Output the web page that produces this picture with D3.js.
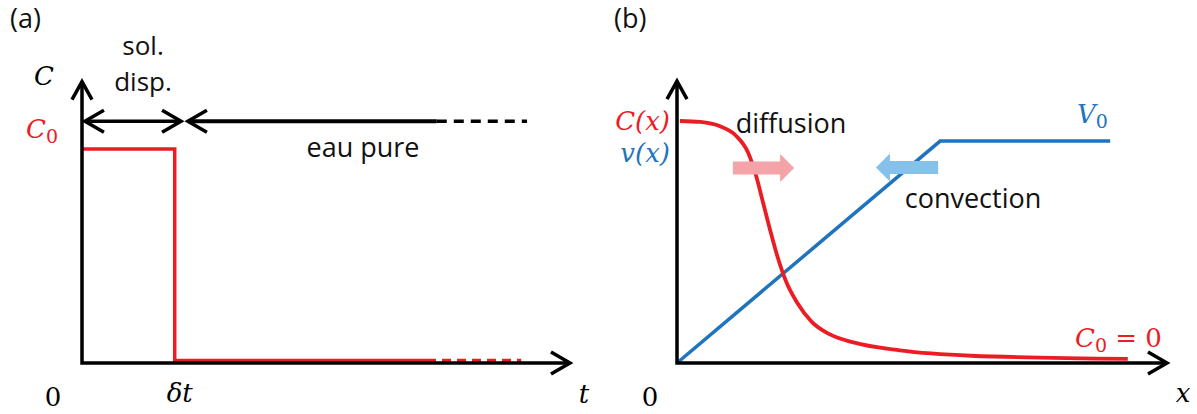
<!DOCTYPE html>
<html>
<head>
<meta charset="utf-8">
<script src="https://cdn.jsdelivr.net/npm/d3@7"></script>
<style>
  body { margin: 0; background: #fff; }
  svg { display: block; }
  .txt { font-family: "Open Sans", sans-serif; fill: #111; }
  .math { font-family: "DejaVu Serif", serif; font-style: italic; }
  .num { font-family: "DejaVu Serif", serif; }
</style>
</head>
<body>
<div id="graph"></div>
<script>
// ---- panel (a) data : C(t) for a pulse of solution then pure water
var stepT = [0, 0.19, 0.19, 0.707];
var stepC = [1, 1, 0.012, 0.012];
var tailT = [0.707, 0.90];           // dashed continuation
var deltaT = 0.19;
var solArrow = [0.006, 0.203];       // "sol. disp." double arrow
var eauArrow = [0.217, 0.727, 0.912];// start, end of solid, end of dashed

// ---- panel (b) data : C(x) and v(x)
var cx = [0.006, 0.047, 0.088, 0.12, 0.145, 0.162, 0.176, 0.19, 0.205, 0.222, 0.245, 0.275, 0.31, 0.36, 0.455, 0.6, 0.92];
var cy = [1.0, 0.996, 0.978, 0.94, 0.87, 0.77, 0.66, 0.55, 0.44, 0.34, 0.25, 0.17, 0.12, 0.085, 0.052, 0.03, 0.017];
var vx = [0, 0.537, 0.884];
var vy = [0, 0.917, 0.917];
var diffArrow = [0.114, 0.239, 0.806];   // x from, x to, level
var convArrow = [0.533, 0.406, 0.808];

var red = "#ec1c24", blue = "#1f74bd", pink = "#f4a3a8", lightBlue = "#85c1ea";

var width = 1197, height = 414;
var svg = d3.select("#graph").append("svg")
	.attr("width", width)
	.attr("height", height);

// open chevron arrow head at (x,y) pointing in direction (dx,dy)
function chevron(g, x, y, dx, dy, len, half, w){
	var px = -dy, py = dx;
	var p = d3.path();
	p.moveTo(x - dx*len + px*half, y - dy*len + py*half);
	p.lineTo(x, y);
	p.lineTo(x - dx*len - px*half, y - dy*len - py*half);
	g.append("path").attr("d", p.toString())
		.attr("fill", "none").attr("stroke", "#000")
		.attr("stroke-width", w).attr("stroke-linejoin", "miter");
}

// thick block arrow (body + triangular head)
function blockArrow(g, x0, x1, y, color){
	var dir = x1 > x0 ? 1 : -1, headLen = 14, bh = 6.5, hh = 14;
	var xb = x1 - dir*headLen;
	var pts = [[x0, y-bh],[xb, y-bh],[xb, y-hh],[x1, y],[xb, y+hh],[xb, y+bh],[x0, y+bh]];
	g.append("path").attr("d", d3.line()(pts) + "Z").attr("fill", color);
}

/* ---------------- panel (a) ---------------- */
var xa = d3.scaleLinear().domain([0, 1]).range([82, 570]);
var ya = d3.scaleLinear().domain([0, 1]).range([363, 149]);
var ga = svg.append("g");

var lineA = d3.line().x(function(d){ return xa(d[0]); }).y(function(d){ return ya(d[1]); });

ga.append("path")
	.attr("d", lineA(d3.zip(stepT, stepC)))
	.attr("fill", "none").attr("stroke", red).attr("stroke-width", 3.5);
ga.append("path")
	.attr("d", lineA(tailT.map(function(t){ return [t, 0.012]; })))
	.attr("fill", "none").attr("stroke", red).attr("stroke-width", 3.5)
	.attr("stroke-dasharray", "9,6");

// axes
ga.append("path").attr("d", lineA([[0, 1.315], [0, 0], [1, 0]]))
	.attr("fill", "none").attr("stroke", "#000").attr("stroke-width", 3.5);
chevron(ga, xa(0), ya(1.315), 0, -1, 18, 10, 3.5);
chevron(ga, xa(1), ya(0), 1, 0, 19, 11, 3.5);

// annotation arrows
var yArr = ya(1.13);
ga.append("line").attr("x1", xa(solArrow[0])).attr("x2", xa(solArrow[1]))
	.attr("y1", yArr).attr("y2", yArr).attr("stroke", "#000").attr("stroke-width", 3.5);
chevron(ga, xa(solArrow[0]), yArr, -1, 0, 19, 11, 3.5);
chevron(ga, xa(solArrow[1]), yArr, 1, 0, 19, 11, 3.5);
ga.append("line").attr("x1", xa(eauArrow[0])).attr("x2", xa(eauArrow[1]))
	.attr("y1", yArr).attr("y2", yArr).attr("stroke", "#000").attr("stroke-width", 4);
ga.append("line").attr("x1", xa(eauArrow[1])).attr("x2", xa(eauArrow[2]))
	.attr("y1", yArr).attr("y2", yArr).attr("stroke", "#000").attr("stroke-width", 3.5)
	.attr("stroke-dasharray", "10,7");
chevron(ga, xa(eauArrow[0]), yArr, -1, 0, 19, 11, 3.5);

// texts
svg.append("text").attr("class", "txt").attr("x", 10).attr("y", 28).attr("font-size", 27).text("(a)");
ga.append("text").attr("class", "txt").attr("x", 143).attr("y", 55).attr("font-size", 26)
	.attr("text-anchor", "middle").text("sol.");
ga.append("text").attr("class", "txt").attr("x", 143).attr("y", 91).attr("font-size", 26)
	.attr("text-anchor", "middle").text("disp.");
ga.append("text").attr("class", "txt").attr("x", 363).attr("y", 157).attr("font-size", 27)
	.attr("text-anchor", "middle").text("eau pure");

ga.append("text").attr("class", "math").attr("x", 34).attr("y", 85).attr("font-size", 26).text("C");
var c0 = ga.append("text").attr("class", "math").attr("x", 26).attr("y", 138).attr("font-size", 26).attr("fill", red);
c0.append("tspan").text("C");
c0.append("tspan").attr("class", "num").attr("font-style", "normal").attr("font-size", 19).attr("dy", 5).text("0");

ga.append("text").attr("class", "num").attr("x", 53).attr("y", 406).attr("font-size", 26)
	.attr("text-anchor", "middle").text("0");
ga.append("text").attr("class", "math").attr("x", xa(deltaT) + 5).attr("y", 402).attr("font-size", 26)
	.attr("text-anchor", "middle").text("δt");
ga.append("text").attr("class", "math").attr("x", 584).attr("y", 403).attr("font-size", 26)
	.attr("text-anchor", "middle").text("t");

/* ---------------- panel (b) ---------------- */
var xb = d3.scaleLinear().domain([0, 1]).range([677, 1167]);
var yb = d3.scaleLinear().domain([0, 1]).range([363, 121]);
var gb = svg.append("g");

var lineB = d3.line().x(function(d){ return xb(d[0]); }).y(function(d){ return yb(d[1]); });
var curveB = d3.line().curve(d3.curveMonotoneX)
	.x(function(d){ return xb(d[0]); }).y(function(d){ return yb(d[1]); });

gb.append("path").attr("d", lineB(d3.zip(vx, vy)))
	.attr("fill", "none").attr("stroke", blue).attr("stroke-width", 3.5);
gb.append("path").attr("d", curveB(d3.zip(cx, cy)))
	.attr("fill", "none").attr("stroke", red).attr("stroke-width", 3.8);

blockArrow(gb, xb(diffArrow[0]), xb(diffArrow[1]), yb(diffArrow[2]), pink);
blockArrow(gb, xb(convArrow[0]), xb(convArrow[1]), yb(convArrow[2]), lightBlue);

gb.append("path").attr("d", lineB([[0, 1.165], [0, 0], [1, 0]]))
	.attr("fill", "none").attr("stroke", "#000").attr("stroke-width", 3.5);
chevron(gb, xb(0), yb(1.165), 0, -1, 18, 10, 3.5);
chevron(gb, xb(1), yb(0), 1, 0, 19, 11, 3.5);

svg.append("text").attr("class", "txt").attr("x", 614).attr("y", 28).attr("font-size", 27).text("(b)");
gb.append("text").attr("class", "txt").attr("x", 791).attr("y", 133).attr("font-size", 27)
	.attr("text-anchor", "middle").text("diffusion");
gb.append("text").attr("class", "txt").attr("x", 973).attr("y", 208).attr("font-size", 27)
	.attr("text-anchor", "middle").text("convection");

gb.append("text").attr("class", "math").attr("x", 670).attr("y", 130).attr("font-size", 26)
	.attr("text-anchor", "end").attr("fill", red).text("C(x)");
gb.append("text").attr("class", "math").attr("x", 670).attr("y", 162).attr("font-size", 26)
	.attr("text-anchor", "end").attr("fill", blue).text("v(x)");
var v0 = gb.append("text").attr("class", "math").attr("x", 1077).attr("y", 123).attr("font-size", 26).attr("fill", blue);
v0.append("tspan").text("V");
v0.append("tspan").attr("class", "num").attr("font-style", "normal").attr("font-size", 19).attr("dy", 5).text("0");
var c00 = gb.append("text").attr("class", "math").attr("x", 1075).attr("y", 347).attr("font-size", 26).attr("fill", red);
c00.append("tspan").text("C");
c00.append("tspan").attr("class", "num").attr("font-style", "normal").attr("font-size", 19).attr("dy", 5).text("0");
c00.append("tspan").attr("class", "num").attr("font-style", "normal").attr("dy", -5).text(" = 0");

gb.append("text").attr("class", "num").attr("x", 650).attr("y", 406).attr("font-size", 26)
	.attr("text-anchor", "middle").text("0");
gb.append("text").attr("class", "math").attr("x", 1183).attr("y", 402).attr("font-size", 26)
	.attr("text-anchor", "middle").text("x");
</script>
</body>
</html>
